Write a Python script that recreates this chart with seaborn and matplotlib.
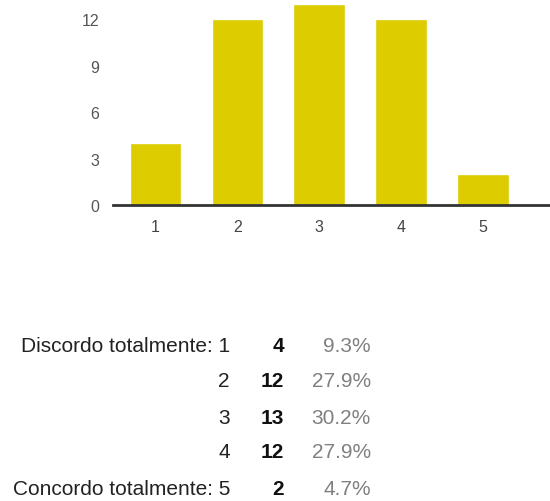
import matplotlib
matplotlib.use("Agg")
import matplotlib.pyplot as plt
import seaborn as sns
import pandas as pd

categories = ["1", "2", "3", "4", "5"]
counts = [4, 12, 13, 12, 2]
percents = ["9.3%", "27.9%", "30.2%", "27.9%", "4.7%"]
row_labels = ["Discordo totalmente: 1", "2", "3", "4", "Concordo totalmente: 5"]
yticks = [0, 3, 6, 9, 12]

sns.set_theme(style="white")
plt.rcParams["font.family"] = ["Liberation Sans", "DejaVu Sans"]

fig = plt.figure(figsize=(5.5, 5.02), dpi=100)
ax = fig.add_axes([113 / 550, 1 - 206 / 502, 1 - 113 / 550, 206 / 502])

df = pd.DataFrame({"cat": categories, "count": counts})
sns.barplot(data=df, x="cat", y="count", color="#DCCC00", saturation=1,
            width=0.63, ax=ax)

ax.set_xlim(-0.52, 4.82)
ax.set_ylim(0, 206 / 15.5)
ax.set_yticks(yticks)
ax.set_yticklabels([str(v) for v in yticks])
ax.set_xlabel("")
ax.set_ylabel("")
for s in ["top", "right", "left"]:
    ax.spines[s].set_visible(False)
ax.spines["bottom"].set_color("#333333")
ax.spines["bottom"].set_linewidth(2)
ax.tick_params(axis="y", length=0, pad=10, labelsize=11.5, labelcolor="#555555")
ax.tick_params(axis="x", length=0, pad=10, labelsize=11.5, labelcolor="#444444")
ax.grid(False)

row_y = [347, 382, 418, 453, 490]
for lab, c, p, y in zip(row_labels, counts, percents, row_y):
    fy = 1 - y / 502
    fig.text(230 / 550, fy, lab, ha="right", va="center", fontsize=15, color="#222222")
    fig.text(284 / 550, fy, str(c), ha="right", va="center", fontsize=15,
             fontweight="bold", color="#111111")
    fig.text(371 / 550, fy, p, ha="right", va="center", fontsize=15, color="#808080")

fig.savefig("out.png", dpi=100)
